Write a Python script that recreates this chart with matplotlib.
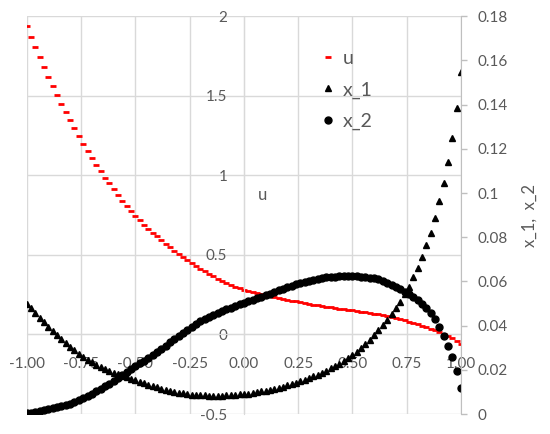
import matplotlib
matplotlib.use("Agg")
import matplotlib.pyplot as plt
from matplotlib.ticker import FixedLocator, FixedFormatter

plt.rcParams['font.family'] = ['Lato', 'DejaVu Sans']
plt.rcParams['axes.unicode_minus'] = False

# ---- data ----
t = [round(-1 + 0.02 * i, 2) for i in range(101)]

u = [1.939, 1.868, 1.805, 1.742, 1.680, 1.619, 1.560, 1.504, 1.451, 1.399,
     1.347, 1.296, 1.248, 1.200, 1.154, 1.112, 1.068, 1.028, 0.986, 0.949,
     0.913, 0.876, 0.842, 0.808, 0.777, 0.746, 0.718, 0.691, 0.665, 0.640,
     0.616, 0.593, 0.570, 0.548, 0.527, 0.506, 0.486, 0.467, 0.448, 0.430,
     0.413, 0.396, 0.380, 0.365, 0.351, 0.337, 0.324, 0.312, 0.301, 0.291,
     0.282, 0.274, 0.267, 0.261, 0.255, 0.249, 0.243, 0.237, 0.230, 0.224,
     0.218, 0.213, 0.208, 0.203, 0.198, 0.193, 0.188, 0.183, 0.178, 0.174,
     0.170, 0.166, 0.162, 0.158, 0.155, 0.151, 0.147, 0.143, 0.139, 0.135,
     0.131, 0.126, 0.121, 0.115, 0.109, 0.102, 0.095, 0.088, 0.080, 0.072,
     0.064, 0.055, 0.046, 0.036, 0.026, 0.015, 0.003, -0.010, -0.024, -0.040,
     -0.058]

x_1 = [0.0500, 0.0478, 0.0457, 0.0436, 0.0416, 0.0396, 0.0376, 0.0357, 0.0338, 0.0320,
       0.0304, 0.0288, 0.0273, 0.0259, 0.0246, 0.0234, 0.0223, 0.0212, 0.0203, 0.0195,
       0.0187, 0.0180, 0.0173, 0.0166, 0.0160, 0.0153, 0.0146, 0.0139, 0.0132, 0.0126,
       0.0120, 0.0114, 0.0109, 0.0104, 0.0100, 0.0096, 0.0093, 0.0090, 0.0088, 0.0086,
       0.0085, 0.0084, 0.0083, 0.0083, 0.0083, 0.0083, 0.0084, 0.0085, 0.0087, 0.0089,
       0.0090, 0.0092, 0.0095, 0.0098, 0.0102, 0.0106, 0.0110, 0.0114, 0.0119, 0.0124,
       0.0130, 0.0136, 0.0142, 0.0148, 0.0155, 0.0162, 0.0170, 0.0178, 0.0187, 0.0196,
       0.0206, 0.0217, 0.0228, 0.0240, 0.0253, 0.0267, 0.0282, 0.0298, 0.0316, 0.0336,
       0.0357, 0.0379, 0.0401, 0.0425, 0.0451, 0.0478, 0.0508, 0.0541, 0.0576, 0.0618,
       0.0661, 0.0709, 0.0763, 0.0820, 0.0888, 0.0962, 0.1045, 0.1140, 0.1251, 0.1385,
       0.1548]

x_2 = [0.0004, 0.0006, 0.0009, 0.0013, 0.0017, 0.0021, 0.0025, 0.0030, 0.0035, 0.0040,
       0.0046, 0.0054, 0.0062, 0.0071, 0.0081, 0.0092, 0.0103, 0.0114, 0.0126, 0.0138,
       0.0151, 0.0164, 0.0177, 0.0190, 0.0203, 0.0216, 0.0229, 0.0242, 0.0255, 0.0268,
       0.0282, 0.0296, 0.0310, 0.0325, 0.0339, 0.0354, 0.0368, 0.0382, 0.0395, 0.0407,
       0.0419, 0.0430, 0.0440, 0.0449, 0.0458, 0.0466, 0.0474, 0.0482, 0.0489, 0.0496,
       0.0503, 0.0510, 0.0517, 0.0524, 0.0531, 0.0538, 0.0545, 0.0552, 0.0559, 0.0566,
       0.0573, 0.0580, 0.0587, 0.0593, 0.0599, 0.0604, 0.0608, 0.0612, 0.0615, 0.0618,
       0.0620, 0.0622, 0.0623, 0.0624, 0.0624, 0.0624, 0.0623, 0.0622, 0.0620, 0.0617,
       0.0614, 0.0609, 0.0602, 0.0595, 0.0586, 0.0576, 0.0565, 0.0554, 0.0542, 0.0529,
       0.0514, 0.0497, 0.0479, 0.0457, 0.0429, 0.0395, 0.0354, 0.0310, 0.0258, 0.0193,
       0.0116]

x_ticks = [-1.0, -0.75, -0.5, -0.25, 0.0, 0.25, 0.5, 0.75, 1.0]
x_ticklabels = ['-1.00', '-0.75', '-0.50', '-0.25', '0.00', '0.25', '0.50', '0.75', '1.00']
u_ticks = [-0.5, 0, 0.5, 1, 1.5, 2]
u_ticklabels = ['-0.5', '0', '0.5', '1', '1.5', '2']
r_ticks = [0, 0.02, 0.04, 0.06, 0.08, 0.1, 0.12, 0.14, 0.16, 0.18]
r_ticklabels = ['0', '0.02', '0.04', '0.06', '0.08', '0.1', '0.12', '0.14', '0.16', '0.18']

TXT = '#595959'
GRID = '#d9d9d9'

fig = plt.figure(figsize=(5.5, 4.34), dpi=100)
W, H = 550, 434
x0, x1p, y_top, y_bot = 26.7, 461.0, 16.3, 414.0
ax = fig.add_axes([x0 / W, 1 - y_bot / H, (x1p - x0) / W, (y_bot - y_top) / H])

ax.set_xlim(-1, 1)
ax.set_ylim(-0.5, 2)
ax.xaxis.set_major_locator(FixedLocator(x_ticks))
ax.xaxis.set_major_formatter(FixedFormatter(x_ticklabels))
ax.yaxis.set_major_locator(FixedLocator(u_ticks))
ax.yaxis.set_major_formatter(FixedFormatter(u_ticklabels))
ax.grid(True, color=GRID, linewidth=1.0)
ax.set_axisbelow(True)
for s in ['top', 'right']:
    ax.spines[s].set_visible(False)
ax.spines['bottom'].set_position(('data', 0))
ax.spines['left'].set_position(('data', 0))
ax.spines['bottom'].set_color(GRID)
ax.spines['left'].set_color(GRID)
ax.tick_params(axis='x', length=0, pad=16, labelsize=11, labelcolor=TXT)
ax.tick_params(axis='y', length=0, pad=12, labelsize=11, labelcolor=TXT)
ax.patch.set_alpha(0)

l_u, = ax.plot(t, u, linestyle='none', marker='_', markersize=5, markeredgewidth=2,
               color='#ff0000', label='u')

ax.text(0.542, 0.55, 'u', transform=ax.transAxes, ha='center', va='center',
        fontsize=12, color=TXT)

ax2 = ax.twinx()
ax2.set_ylim(0, 0.18)
ax2.yaxis.set_major_locator(FixedLocator(r_ticks))
ax2.yaxis.set_major_formatter(FixedFormatter(r_ticklabels))
for s in ['top', 'left', 'bottom']:
    ax2.spines[s].set_visible(False)
ax2.spines['right'].set_color('#bfbfbf')
ax2.tick_params(axis='y', length=4, width=1, color='#bfbfbf', pad=8,
                labelsize=11, labelcolor=TXT)
ax2.set_ylabel('x_1,  x_2', fontsize=12, color=TXT, labelpad=10)

l_x1, = ax2.plot(t, x_1, linestyle='none', marker='^', markersize=4.5,
                 color='black', label='x_1')
l_x2, = ax2.plot(t, x_2, linestyle='none', marker='o', markersize=5,
                 color='black', label='x_2')

leg = fig.legend(handles=[l_u, l_x1, l_x2], loc='upper left',
                 bbox_to_anchor=(311 / W, 1 - 40 / H), frameon=False,
                 fontsize=14, handlelength=0.7, handletextpad=0.45,
                 labelspacing=0.75, borderpad=0, numpoints=1)
for txt in leg.get_texts():
    txt.set_color(TXT)

fig.savefig('out.png', dpi=100)
